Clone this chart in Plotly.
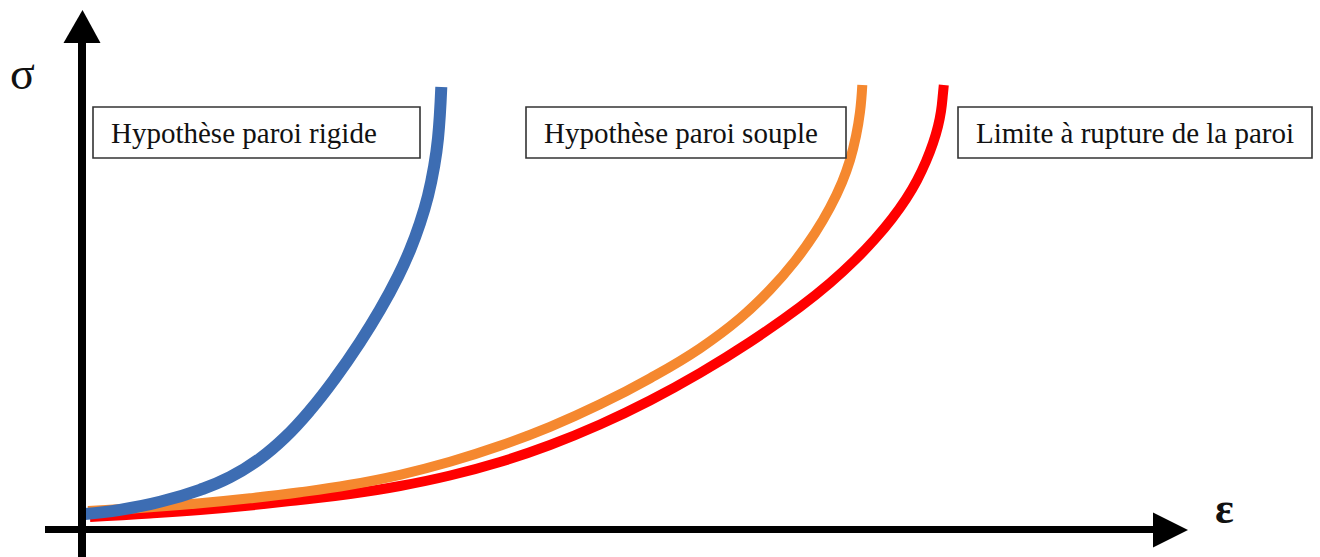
import plotly.graph_objects as go

# Stress-strain curves (arbitrary units): strain ε on x, stress σ on y
rigid_eps = [0.03, 0.38, 0.78, 1.18, 1.48, 1.78, 2.03, 2.28, 2.53, 2.78, 2.98, 3.16,
             3.28, 3.38, 3.46, 3.52, 3.56, 3.593]
rigid_sig = [0.150, 0.192, 0.272, 0.392, 0.518, 0.704, 0.916, 1.186, 1.506, 1.868, 2.192, 2.525,
             2.789, 3.059, 3.331, 3.619, 3.907, 4.420]

soft_eps = [0.06, 0.68, 1.18, 1.68, 2.18, 2.68, 3.18, 3.68, 4.18, 4.68, 5.18, 5.68,
            6.18, 6.58, 6.88, 7.13, 7.33, 7.48, 7.60, 7.68, 7.74, 7.78, 7.803]
soft_sig = [0.180, 0.217, 0.257, 0.307, 0.367, 0.442, 0.542, 0.672, 0.832, 1.022, 1.247, 1.507,
            1.807, 2.107, 2.392, 2.680, 2.960, 3.215, 3.467, 3.690, 3.930, 4.170, 4.440]

rupture_eps = [0.08, 0.68, 1.18, 1.68, 2.18, 2.68, 3.18, 3.68, 4.18, 4.68, 5.18, 5.68,
               6.18, 6.68, 7.18, 7.48, 7.73, 7.93, 8.10, 8.24, 8.35, 8.44, 8.51, 8.56,
               8.59, 8.61, 8.618]
rupture_sig = [0.120, 0.155, 0.190, 0.235, 0.290, 0.350, 0.430, 0.535, 0.670, 0.840, 1.045, 1.285,
               1.560, 1.870, 2.220, 2.460, 2.690, 2.900, 3.104, 3.300, 3.487, 3.676, 3.858, 4.028,
               4.178, 4.358, 4.440]

labels = ["Hypothèse paroi rigide", "Hypothèse paroi souple", "Limite à rupture de la paroi"]
label_x = [0.27, 4.60, 8.92]          # left edge of each label text
box_x0 = [0.11, 4.44, 8.76]
box_x1 = [3.38, 7.64, 12.30]
box_y0, box_y1 = 3.71, 4.22

X_RANGE = [-0.82, 12.38]
Y_RANGE = [-0.28, 5.29]

fig = go.Figure()

series = [
    (rupture_eps, rupture_sig, "#FF0000", 10),
    (soft_eps, soft_sig, "#F5882F", 10),
    (rigid_eps, rigid_sig, "#3D6DB3", 12),
]
for xs, ys, color, w in series:
    fig.add_trace(go.Scatter(
        x=xs, y=ys, mode="lines",
        line=dict(color=color, width=w, shape="spline", smoothing=1.3),
        hoverinfo="skip", showlegend=False,
    ))

shapes = []
# axes with arrow heads
shapes.append(dict(type="line", x0=0, x1=0, y0=Y_RANGE[0], y1=4.88,
                   line=dict(color="black", width=8), layer="above"))
shapes.append(dict(type="path", path="M -0.185 4.86 L 0.185 4.86 L 0.005 5.19 Z",
                   fillcolor="black", line=dict(width=0), layer="above"))
shapes.append(dict(type="line", x0=-0.37, x1=10.73, y0=-0.005, y1=-0.005,
                   line=dict(color="black", width=7), layer="above"))
shapes.append(dict(type="path", path="M 10.71 0.165 L 10.71 -0.185 L 11.06 -0.01 Z",
                   fillcolor="black", line=dict(width=0), layer="above"))
# label frames
for a, b in zip(box_x0, box_x1):
    shapes.append(dict(type="rect", x0=a, x1=b, y0=box_y0, y1=box_y1,
                       line=dict(color="#333333", width=1.6), fillcolor="white"))

annotations = []
for t, x in zip(labels, label_x):
    annotations.append(dict(x=x, y=(box_y0 + box_y1) / 2, text=t, showarrow=False,
                            xanchor="left", yanchor="middle",
                            font=dict(family="Liberation Serif", size=29, color="#111111")))
annotations.append(dict(x=-0.60, y=4.56, text="σ", showarrow=False,
                        xanchor="center", yanchor="middle",
                        font=dict(family="Liberation Serif", size=46, color="#111111")))
annotations.append(dict(x=11.42, y=0.21, text="<b>ε</b>", showarrow=False,
                        xanchor="center", yanchor="middle",
                        font=dict(family="Liberation Serif", size=44, color="#111111")))

fig.update_layout(
    width=1320, height=557,
    margin=dict(l=0, r=0, t=0, b=0),
    paper_bgcolor="white", plot_bgcolor="white",
    xaxis=dict(range=X_RANGE, visible=False, fixedrange=True),
    yaxis=dict(range=Y_RANGE, visible=False, fixedrange=True),
    shapes=shapes, annotations=annotations,
)

fig.write_html("out.html")
